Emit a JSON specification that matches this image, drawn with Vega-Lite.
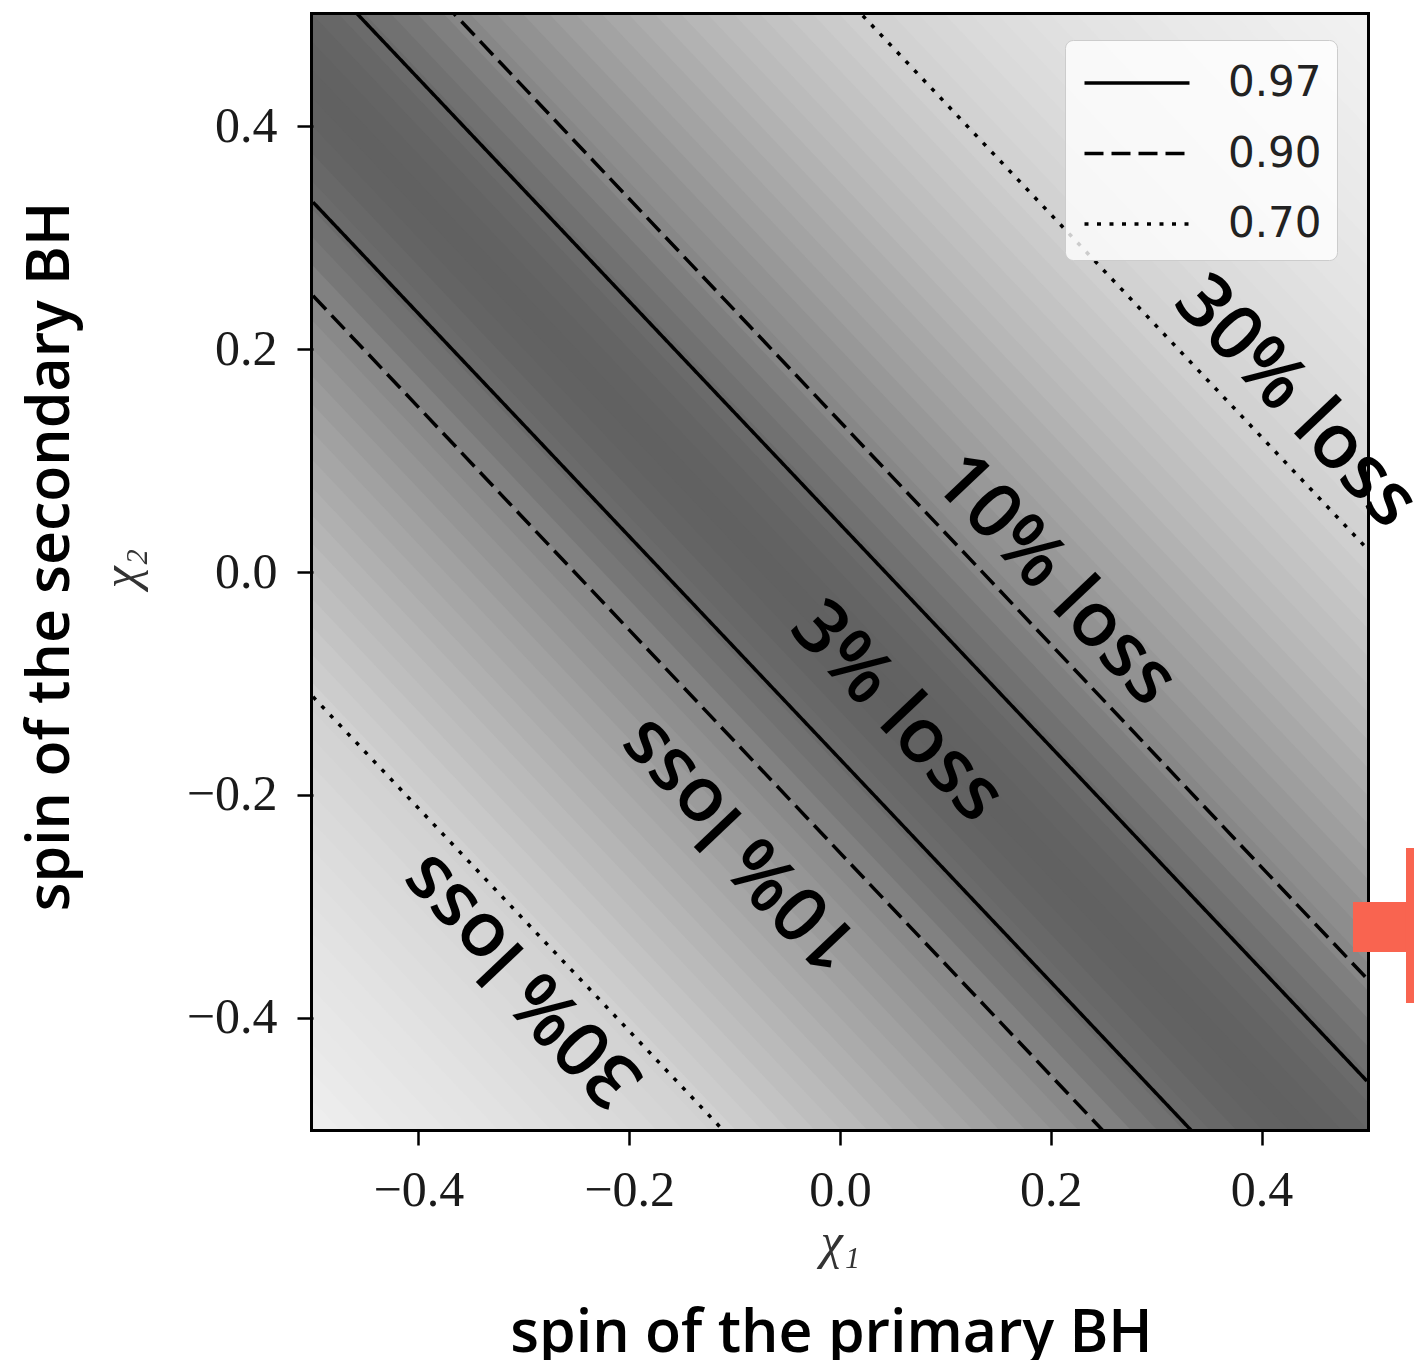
{
  "$schema": "https://vega.github.io/schema/vega-lite/v6.json",
  "width": 1054,
  "height": 1114,
  "autosize": {"type": "none"},
  "padding": {"left": 313, "top": 15, "right": 47, "bottom": 231},
  "background": "#ffffff",
  "config": {
    "view": {"stroke": "#000000", "strokeWidth": 6},
    "font": "DejaVu Sans"
  },
  "datasets": {
    "bands": [
      {"b":0,"m":0.622,"x":-0.5,"y":-0.55,"y2":-0.47},{"b":0,"m":0.622,"x":0.5,"y":-1.55,"y2":-1.47},
      {"b":1,"m":0.627,"x":-0.5,"y":-0.475,"y2":-0.445},{"b":1,"m":0.627,"x":0.5,"y":-1.475,"y2":-1.445},
      {"b":2,"m":0.631,"x":-0.5,"y":-0.45,"y2":-0.42},{"b":2,"m":0.631,"x":0.5,"y":-1.45,"y2":-1.42},
      {"b":3,"m":0.636,"x":-0.5,"y":-0.425,"y2":-0.395},{"b":3,"m":0.636,"x":0.5,"y":-1.425,"y2":-1.395},
      {"b":4,"m":0.640,"x":-0.5,"y":-0.4,"y2":-0.37},{"b":4,"m":0.640,"x":0.5,"y":-1.4,"y2":-1.37},
      {"b":5,"m":0.645,"x":-0.5,"y":-0.375,"y2":-0.345},{"b":5,"m":0.645,"x":0.5,"y":-1.375,"y2":-1.345},
      {"b":6,"m":0.649,"x":-0.5,"y":-0.35,"y2":-0.32},{"b":6,"m":0.649,"x":0.5,"y":-1.35,"y2":-1.32},
      {"b":7,"m":0.654,"x":-0.5,"y":-0.325,"y2":-0.295},{"b":7,"m":0.654,"x":0.5,"y":-1.325,"y2":-1.295},
      {"b":8,"m":0.658,"x":-0.5,"y":-0.3,"y2":-0.27},{"b":8,"m":0.658,"x":0.5,"y":-1.3,"y2":-1.27},
      {"b":9,"m":0.663,"x":-0.5,"y":-0.275,"y2":-0.245},{"b":9,"m":0.663,"x":0.5,"y":-1.275,"y2":-1.245},
      {"b":10,"m":0.669,"x":-0.5,"y":-0.25,"y2":-0.22},{"b":10,"m":0.669,"x":0.5,"y":-1.25,"y2":-1.22},
      {"b":11,"m":0.675,"x":-0.5,"y":-0.225,"y2":-0.195},{"b":11,"m":0.675,"x":0.5,"y":-1.225,"y2":-1.195},
      {"b":12,"m":0.681,"x":-0.5,"y":-0.2,"y2":-0.17},{"b":12,"m":0.681,"x":0.5,"y":-1.2,"y2":-1.17},
      {"b":13,"m":0.687,"x":-0.5,"y":-0.175,"y2":-0.145},{"b":13,"m":0.687,"x":0.5,"y":-1.175,"y2":-1.145},
      {"b":14,"m":0.694,"x":-0.5,"y":-0.15,"y2":-0.12},{"b":14,"m":0.694,"x":0.5,"y":-1.15,"y2":-1.12},
      {"b":15,"m":0.700,"x":-0.5,"y":-0.125,"y2":-0.095},{"b":15,"m":0.700,"x":0.5,"y":-1.125,"y2":-1.095},
      {"b":16,"m":0.712,"x":-0.5,"y":-0.1,"y2":-0.07},{"b":16,"m":0.712,"x":0.5,"y":-1.1,"y2":-1.07},
      {"b":17,"m":0.724,"x":-0.5,"y":-0.075,"y2":-0.045},{"b":17,"m":0.724,"x":0.5,"y":-1.075,"y2":-1.045},
      {"b":18,"m":0.736,"x":-0.5,"y":-0.05,"y2":-0.02},{"b":18,"m":0.736,"x":0.5,"y":-1.05,"y2":-1.02},
      {"b":19,"m":0.749,"x":-0.5,"y":-0.025,"y2":0.005},{"b":19,"m":0.749,"x":0.5,"y":-1.025,"y2":-0.995},
      {"b":20,"m":0.761,"x":-0.5,"y":0,"y2":0.03},{"b":20,"m":0.761,"x":0.5,"y":-1,"y2":-0.97},
      {"b":21,"m":0.774,"x":-0.5,"y":0.025,"y2":0.055},{"b":21,"m":0.774,"x":0.5,"y":-0.975,"y2":-0.945},
      {"b":22,"m":0.787,"x":-0.5,"y":0.05,"y2":0.08},{"b":22,"m":0.787,"x":0.5,"y":-0.95,"y2":-0.92},
      {"b":23,"m":0.801,"x":-0.5,"y":0.075,"y2":0.105},{"b":23,"m":0.801,"x":0.5,"y":-0.925,"y2":-0.895},
      {"b":24,"m":0.815,"x":-0.5,"y":0.1,"y2":0.13},{"b":24,"m":0.815,"x":0.5,"y":-0.9,"y2":-0.87},
      {"b":25,"m":0.829,"x":-0.5,"y":0.125,"y2":0.155},{"b":25,"m":0.829,"x":0.5,"y":-0.875,"y2":-0.845},
      {"b":26,"m":0.845,"x":-0.5,"y":0.15,"y2":0.18},{"b":26,"m":0.845,"x":0.5,"y":-0.85,"y2":-0.82},
      {"b":27,"m":0.861,"x":-0.5,"y":0.175,"y2":0.205},{"b":27,"m":0.861,"x":0.5,"y":-0.825,"y2":-0.795},
      {"b":28,"m":0.877,"x":-0.5,"y":0.2,"y2":0.23},{"b":28,"m":0.877,"x":0.5,"y":-0.8,"y2":-0.77},
      {"b":29,"m":0.893,"x":-0.5,"y":0.225,"y2":0.255},{"b":29,"m":0.893,"x":0.5,"y":-0.775,"y2":-0.745},
      {"b":30,"m":0.915,"x":-0.5,"y":0.25,"y2":0.28},{"b":30,"m":0.915,"x":0.5,"y":-0.75,"y2":-0.72},
      {"b":31,"m":0.940,"x":-0.5,"y":0.275,"y2":0.305},{"b":31,"m":0.940,"x":0.5,"y":-0.725,"y2":-0.695},
      {"b":32,"m":0.957,"x":-0.5,"y":0.3,"y2":0.33},{"b":32,"m":0.957,"x":0.5,"y":-0.7,"y2":-0.67},
      {"b":33,"m":0.972,"x":-0.5,"y":0.325,"y2":0.355},{"b":33,"m":0.972,"x":0.5,"y":-0.675,"y2":-0.645},
      {"b":34,"m":0.982,"x":-0.5,"y":0.35,"y2":0.38},{"b":34,"m":0.982,"x":0.5,"y":-0.65,"y2":-0.62},
      {"b":35,"m":0.992,"x":-0.5,"y":0.375,"y2":0.405},{"b":35,"m":0.992,"x":0.5,"y":-0.625,"y2":-0.595},
      {"b":36,"m":0.996,"x":-0.5,"y":0.4,"y2":0.43},{"b":36,"m":0.996,"x":0.5,"y":-0.6,"y2":-0.57},
      {"b":37,"m":1.000,"x":-0.5,"y":0.425,"y2":0.455},{"b":37,"m":1.000,"x":0.5,"y":-0.575,"y2":-0.545},
      {"b":38,"m":0.997,"x":-0.5,"y":0.45,"y2":0.48},{"b":38,"m":0.997,"x":0.5,"y":-0.55,"y2":-0.52},
      {"b":39,"m":0.993,"x":-0.5,"y":0.475,"y2":0.505},{"b":39,"m":0.993,"x":0.5,"y":-0.525,"y2":-0.495},
      {"b":40,"m":0.983,"x":-0.5,"y":0.5,"y2":0.53},{"b":40,"m":0.983,"x":0.5,"y":-0.5,"y2":-0.47},
      {"b":41,"m":0.972,"x":-0.5,"y":0.525,"y2":0.555},{"b":41,"m":0.972,"x":0.5,"y":-0.475,"y2":-0.445},
      {"b":42,"m":0.958,"x":-0.5,"y":0.55,"y2":0.58},{"b":42,"m":0.958,"x":0.5,"y":-0.45,"y2":-0.42},
      {"b":43,"m":0.942,"x":-0.5,"y":0.575,"y2":0.605},{"b":43,"m":0.942,"x":0.5,"y":-0.425,"y2":-0.395},
      {"b":44,"m":0.920,"x":-0.5,"y":0.6,"y2":0.63},{"b":44,"m":0.920,"x":0.5,"y":-0.4,"y2":-0.37},
      {"b":45,"m":0.898,"x":-0.5,"y":0.625,"y2":0.655},{"b":45,"m":0.898,"x":0.5,"y":-0.375,"y2":-0.345},
      {"b":46,"m":0.883,"x":-0.5,"y":0.65,"y2":0.68},{"b":46,"m":0.883,"x":0.5,"y":-0.35,"y2":-0.32},
      {"b":47,"m":0.868,"x":-0.5,"y":0.675,"y2":0.705},{"b":47,"m":0.868,"x":0.5,"y":-0.325,"y2":-0.295},
      {"b":48,"m":0.852,"x":-0.5,"y":0.7,"y2":0.73},{"b":48,"m":0.852,"x":0.5,"y":-0.3,"y2":-0.27},
      {"b":49,"m":0.837,"x":-0.5,"y":0.725,"y2":0.755},{"b":49,"m":0.837,"x":0.5,"y":-0.275,"y2":-0.245},
      {"b":50,"m":0.823,"x":-0.5,"y":0.75,"y2":0.78},{"b":50,"m":0.823,"x":0.5,"y":-0.25,"y2":-0.22},
      {"b":51,"m":0.809,"x":-0.5,"y":0.775,"y2":0.805},{"b":51,"m":0.809,"x":0.5,"y":-0.225,"y2":-0.195},
      {"b":52,"m":0.795,"x":-0.5,"y":0.8,"y2":0.83},{"b":52,"m":0.795,"x":0.5,"y":-0.2,"y2":-0.17},
      {"b":53,"m":0.781,"x":-0.5,"y":0.825,"y2":0.855},{"b":53,"m":0.781,"x":0.5,"y":-0.175,"y2":-0.145},
      {"b":54,"m":0.770,"x":-0.5,"y":0.85,"y2":0.88},{"b":54,"m":0.770,"x":0.5,"y":-0.15,"y2":-0.12},
      {"b":55,"m":0.759,"x":-0.5,"y":0.875,"y2":0.905},{"b":55,"m":0.759,"x":0.5,"y":-0.125,"y2":-0.095},
      {"b":56,"m":0.747,"x":-0.5,"y":0.9,"y2":0.93},{"b":56,"m":0.747,"x":0.5,"y":-0.1,"y2":-0.07},
      {"b":57,"m":0.736,"x":-0.5,"y":0.925,"y2":0.955},{"b":57,"m":0.736,"x":0.5,"y":-0.075,"y2":-0.045},
      {"b":58,"m":0.725,"x":-0.5,"y":0.95,"y2":0.98},{"b":58,"m":0.725,"x":0.5,"y":-0.05,"y2":-0.02},
      {"b":59,"m":0.714,"x":-0.5,"y":0.975,"y2":1.005},{"b":59,"m":0.714,"x":0.5,"y":-0.025,"y2":0.005},
      {"b":60,"m":0.704,"x":-0.5,"y":1,"y2":1.03},{"b":60,"m":0.704,"x":0.5,"y":0,"y2":0.03},
      {"b":61,"m":0.696,"x":-0.5,"y":1.025,"y2":1.055},{"b":61,"m":0.696,"x":0.5,"y":0.025,"y2":0.055},
      {"b":62,"m":0.689,"x":-0.5,"y":1.05,"y2":1.08},{"b":62,"m":0.689,"x":0.5,"y":0.05,"y2":0.08},
      {"b":63,"m":0.682,"x":-0.5,"y":1.075,"y2":1.105},{"b":63,"m":0.682,"x":0.5,"y":0.075,"y2":0.105},
      {"b":64,"m":0.675,"x":-0.5,"y":1.1,"y2":1.13},{"b":64,"m":0.675,"x":0.5,"y":0.1,"y2":0.13},
      {"b":65,"m":0.669,"x":-0.5,"y":1.125,"y2":1.155},{"b":65,"m":0.669,"x":0.5,"y":0.125,"y2":0.155},
      {"b":66,"m":0.664,"x":-0.5,"y":1.15,"y2":1.18},{"b":66,"m":0.664,"x":0.5,"y":0.15,"y2":0.18},
      {"b":67,"m":0.659,"x":-0.5,"y":1.175,"y2":1.205},{"b":67,"m":0.659,"x":0.5,"y":0.175,"y2":0.205},
      {"b":68,"m":0.654,"x":-0.5,"y":1.2,"y2":1.23},{"b":68,"m":0.654,"x":0.5,"y":0.2,"y2":0.23},
      {"b":69,"m":0.649,"x":-0.5,"y":1.225,"y2":1.255},{"b":69,"m":0.649,"x":0.5,"y":0.225,"y2":0.255},
      {"b":70,"m":0.644,"x":-0.5,"y":1.25,"y2":1.28},{"b":70,"m":0.644,"x":0.5,"y":0.25,"y2":0.28},
      {"b":71,"m":0.639,"x":-0.5,"y":1.275,"y2":1.305},{"b":71,"m":0.639,"x":0.5,"y":0.275,"y2":0.305},
      {"b":72,"m":0.635,"x":-0.5,"y":1.3,"y2":1.33},{"b":72,"m":0.635,"x":0.5,"y":0.3,"y2":0.33},
      {"b":73,"m":0.632,"x":-0.5,"y":1.325,"y2":1.355},{"b":73,"m":0.632,"x":0.5,"y":0.325,"y2":0.355},
      {"b":74,"m":0.628,"x":-0.5,"y":1.35,"y2":1.38},{"b":74,"m":0.628,"x":0.5,"y":0.35,"y2":0.38},
      {"b":75,"m":0.625,"x":-0.5,"y":1.375,"y2":1.405},{"b":75,"m":0.625,"x":0.5,"y":0.375,"y2":0.405},
      {"b":76,"m":0.622,"x":-0.5,"y":1.4,"y2":1.43},{"b":76,"m":0.622,"x":0.5,"y":0.4,"y2":0.43},
      {"b":77,"m":0.618,"x":-0.5,"y":1.425,"y2":1.455},{"b":77,"m":0.618,"x":0.5,"y":0.425,"y2":0.455},
      {"b":78,"m":0.615,"x":-0.5,"y":1.45,"y2":1.48},{"b":78,"m":0.615,"x":0.5,"y":0.45,"y2":0.48},
      {"b":79,"m":0.612,"x":-0.5,"y":1.475,"y2":1.55},{"b":79,"m":0.612,"x":0.5,"y":0.475,"y2":0.55}
    ],
    "contours": [
      {"id":"s1","lvl":"0.97","x":-0.5,"y":0.543},{"id":"s1","lvl":"0.97","x":0.5,"y":-0.457},
      {"id":"s2","lvl":"0.97","x":-0.5,"y":0.332},{"id":"s2","lvl":"0.97","x":0.5,"y":-0.668},
      {"id":"d1","lvl":"0.90","x":-0.5,"y":0.635},{"id":"d1","lvl":"0.90","x":0.5,"y":-0.365},
      {"id":"d2","lvl":"0.90","x":-0.5,"y":0.248},{"id":"d2","lvl":"0.90","x":0.5,"y":-0.752},
      {"id":"p1","lvl":"0.70","x":-0.5,"y":1.021},{"id":"p1","lvl":"0.70","x":0.5,"y":0.021},
      {"id":"p2","lvl":"0.70","x":-0.5,"y":-0.112},{"id":"p2","lvl":"0.70","x":0.5,"y":-1.112}
    ],
    "notes": [
      {"t":"30% loss","side":"upper","x":0.4326,"y":0.1526},
      {"t":"10% loss","side":"upper","x":0.204,"y":-0.0072},
      {"t":"3% loss","side":"upper","x":0.0541,"y":-0.1257},
      {"t":"10% loss","side":"lower","x":-0.0949,"y":-0.245},
      {"t":"30% loss","side":"lower","x":-0.3017,"y":-0.3662}
    ],
    "arrow": [
      {"part":"shaft","x1":0.4867,"x2":0.56,"y1":-0.2962,"y2":-0.3411},
      {"part":"head","x1":0.537,"x2":0.56,"y1":-0.2478,"y2":-0.3869}
    ]
  },
  "resolve": {"axis": {"x": "independent", "y": "independent"}},
  "layer": [
    {
      "data": {"name": "bands"},
      "mark": {"type": "area", "clip": true, "opacity": 1},
      "encoding": {
        "x": {
          "field": "x", "type": "quantitative",
          "scale": {"domain": [-0.5, 0.5], "nice": false, "zero": false},
          "axis": {
            "orient": "bottom", "values": [-0.4, -0.2, 0, 0.2, 0.4], "format": ".1f",
            "labelExpr": "replace(datum.label, '-', '\u2212')",
            "domain": false, "grid": false, "ticks": true, "tickSize": 16, "tickWidth": 2.5, "tickColor": "#000000",
            "labelFont": "Liberation Serif", "labelFontSize": 50, "labelColor": "#1a1a1a", "labelPadding": 20,
            "title": "χ₁", "titleFont": "Liberation Serif", "titleFontStyle": "italic", "titleFontWeight": "normal",
            "titleFontSize": 50, "titleColor": "#333333", "titleX": 527, "titleY": 128,
            "titleBaseline": "alphabetic", "titleAlign": "center", "zindex": 1
          }
        },
        "y": {
          "field": "y", "type": "quantitative",
          "scale": {"domain": [-0.5, 0.5], "nice": false, "zero": false},
          "axis": {
            "orient": "left", "values": [-0.4, -0.2, 0, 0.2, 0.4], "format": ".1f",
            "labelExpr": "replace(datum.label, '-', '\u2212')",
            "domain": false, "grid": false, "ticks": true, "tickSize": 16, "tickWidth": 2.5, "tickColor": "#000000",
            "labelFont": "Liberation Serif", "labelFontSize": 50, "labelColor": "#1a1a1a", "labelPadding": 20,
            "title": "χ₂", "titleFont": "Liberation Serif", "titleFontStyle": "italic", "titleFontWeight": "normal",
            "titleFontSize": 50, "titleColor": "#333333", "titleX": -177, "titleY": 553, "titleAngle": -90,
            "titleBaseline": "alphabetic", "titleAlign": "center", "zindex": 1
          }
        },
        "y2": {"field": "y2"},
        "color": {
          "field": "m", "type": "quantitative",
          "scale": {"domain": [0.61, 1.0], "range": ["#f2f2f2", "#616161"], "interpolate": "rgb"},
          "legend": null
        },
        "detail": {"field": "b", "type": "nominal"}
      }
    },
    {
      "data": {"name": "contours"},
      "mark": {"type": "line", "clip": true, "color": "#000000", "strokeWidth": 3.5, "strokeCap": "butt"},
      "encoding": {
        "x": {"field": "x", "type": "quantitative", "axis": null},
        "y": {"field": "y", "type": "quantitative", "axis": null},
        "detail": {"field": "id", "type": "nominal"},
        "strokeDash": {
          "field": "lvl", "type": "nominal",
          "scale": {"domain": ["0.97", "0.90", "0.70"], "range": [[1, 0], [19, 8], [4, 8.5]]},
          "legend": {
            "title": null, "orient": "none", "legendX": 752, "legendY": 25,
            "symbolType": "M-2,0H2", "symbolSize": 2756, "symbolStrokeWidth": 3.5,
            "symbolStrokeColor": "#000000", "symbolFillColor": "transparent",
            "symbolOffset": 29, "labelOffset": 63,
            "labelFont": "DejaVu Sans", "labelFontSize": 42, "labelColor": "#222222",
            "rowPadding": 21.5, "padding": 15,
            "fillColor": "rgba(255,255,255,0.8)", "strokeColor": "#cccccc", "cornerRadius": 8
          }
        }
      }
    },
    {
      "data": {"name": "notes"},
      "transform": [{"filter": "datum.side == 'upper'"}],
      "mark": {"type": "text", "font": "Open Sans", "fontWeight": 600, "fontSize": 76, "color": "#000000", "align": "center", "baseline": "middle", "angle": 46.5},
      "encoding": {
        "x": {
          "field": "x", "type": "quantitative",
          "axis": {
            "orient": "bottom", "domain": false, "ticks": false, "labels": false, "grid": false,
            "title": "spin of the primary BH", "titleFont": "Open Sans", "titleFontWeight": 600,
            "titleFontSize": 59, "titleColor": "#000000", "titleX": 518, "titleY": 222,
            "titleBaseline": "alphabetic", "titleAlign": "center"
          }
        },
        "y": {
          "field": "y", "type": "quantitative",
          "axis": {
            "orient": "left", "domain": false, "ticks": false, "labels": false, "grid": false,
            "title": "spin of the secondary BH", "titleFont": "Open Sans", "titleFontWeight": 600,
            "titleFontSize": 59, "titleColor": "#000000", "titleX": -245, "titleY": 541, "titleAngle": -90,
            "titleBaseline": "alphabetic", "titleAlign": "center"
          }
        },
        "text": {"field": "t"}
      }
    },
    {
      "data": {"name": "notes"},
      "transform": [{"filter": "datum.side == 'lower'"}],
      "mark": {"type": "text", "font": "Open Sans", "fontWeight": 600, "fontSize": 76, "color": "#000000", "align": "center", "baseline": "middle", "angle": 226.5},
      "encoding": {
        "x": {"field": "x", "type": "quantitative", "axis": null},
        "y": {"field": "y", "type": "quantitative", "axis": null},
        "text": {"field": "t"}
      }
    },
    {
      "data": {"name": "arrow"},
      "mark": {"type": "rect", "color": "#f96450"},
      "encoding": {
        "x": {"field": "x1", "type": "quantitative", "axis": null},
        "x2": {"field": "x2"},
        "y": {"field": "y1", "type": "quantitative", "axis": null},
        "y2": {"field": "y2"}
      }
    }
  ]
}
